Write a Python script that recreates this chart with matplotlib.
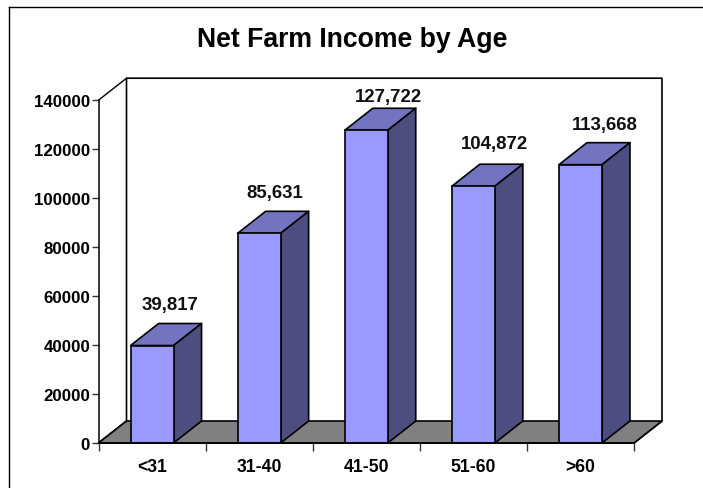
import matplotlib
matplotlib.use("Agg")
import matplotlib.pyplot as plt
from matplotlib.lines import Line2D
from matplotlib.patches import Polygon

W, H = 703, 489

categories = ["<31", "31-40", "41-50", "51-60", ">60"]
income = [39817, 85631, 127722, 104872, 113668]
y_ticks = [0, 20000, 40000, 60000, 80000, 100000, 120000, 140000]

# label nudges in pixels from the top of each bar
label_dx = [18, 16, 22, 21, 24]
label_dy = [41, 41, 34, 43, 40]

FRONT = "#9999FF"
TOP = "#7373BF"
SIDE = "#4D4D80"
FLOOR = "#808080"

plt.rcParams["font.family"] = ["Liberation Sans", "DejaVu Sans"]
plt.rcParams["font.weight"] = "bold"

fig = plt.figure(figsize=(W / 100, H / 100), dpi=100)
left, right, top, bottom = 98.5, 634.0, 101.2, 444.0
ax = fig.add_axes([left / W, 1 - bottom / H, (right - left) / W, (bottom - top) / H])
ax.set_xlim(-0.5, 4.5)
ax.set_ylim(0, 140000)

# 3d offset, 28 px across and 22 px up, in data units
dx = 28 / (right - left) * 5
dy = 22 / (bottom - top) * 140000
bar_w = 43 / (right - left) * 5


def poly(points, color, z):
    ax.add_patch(Polygon(points, closed=True, facecolor=color, edgecolor="black",
                         linewidth=1.2, joinstyle="round", clip_on=False, zorder=z))


# back wall and floor
poly([(-0.5, 0), (-0.5 + dx, dy), (-0.5 + dx, 140000 + dy), (4.5 + dx, 140000 + dy), (4.5 + dx, dy), (4.5, 0)],
     "white", 1)
poly([(-0.5, 0), (-0.5 + dx, dy), (4.5 + dx, dy), (4.5, 0)], FLOOR, 2)
ax.plot([-0.5, -0.5 + dx], [140000, 140000 + dy], color="black", lw=1.0, clip_on=False, zorder=2)

for i, v in enumerate(income):
    x0, x1 = i - bar_w / 2, i + bar_w / 2
    poly([(x0, v), (x0 + dx, v + dy), (x1 + dx, v + dy), (x1, v)], TOP, 3)
    poly([(x1, 0), (x1 + dx, dy), (x1 + dx, v + dy), (x1, v)], SIDE, 3)

ax.bar(range(len(income)), income, width=bar_w, color=FRONT, edgecolor="black",
       linewidth=1.2, zorder=4, clip_on=False)

for i, v in enumerate(income):
    ax.annotate(f"{v:,}", (i, v), xytext=(label_dx[i] * 0.72, label_dy[i] * 0.72),
                textcoords="offset points", ha="center", va="center",
                fontsize=13.4, fontweight="bold", color="#111111", zorder=6)

for name in ["top", "right"]:
    ax.spines[name].set_visible(False)
for name in ["left", "bottom"]:
    ax.spines[name].set_linewidth(1.1)
    ax.spines[name].set_zorder(5)
ax.patch.set_visible(False)

ax.set_yticks(y_ticks)
ax.set_xticks([-0.5, 0.5, 1.5, 2.5, 3.5, 4.5])
ax.set_xticklabels([])
ax.set_xticks(range(len(categories)), labels=categories, minor=True)
ax.tick_params(axis="x", which="major", length=6, width=1, direction="out", color="#333333")
ax.tick_params(axis="x", which="minor", length=0, pad=11, labelsize=12.7)
ax.tick_params(axis="y", length=5, width=1, pad=1, labelsize=12.2, color="#333333")

fig.text(352.5 / W, 1 - 40 / H, "Net Farm Income by Age", ha="center", va="center",
         fontsize=19.2, fontweight="bold", color="black")

# chart frame, only the top and left edges are in the picture
fig.add_artist(Line2D([8.5 / W, 1], [1 - 7.5 / H, 1 - 7.5 / H], color="black", lw=1.0))
fig.add_artist(Line2D([8.5 / W, 8.5 / W], [1 - 7.5 / H, 1 - 488 / H], color="black", lw=1.0))

fig.savefig("out.png", dpi=100)
